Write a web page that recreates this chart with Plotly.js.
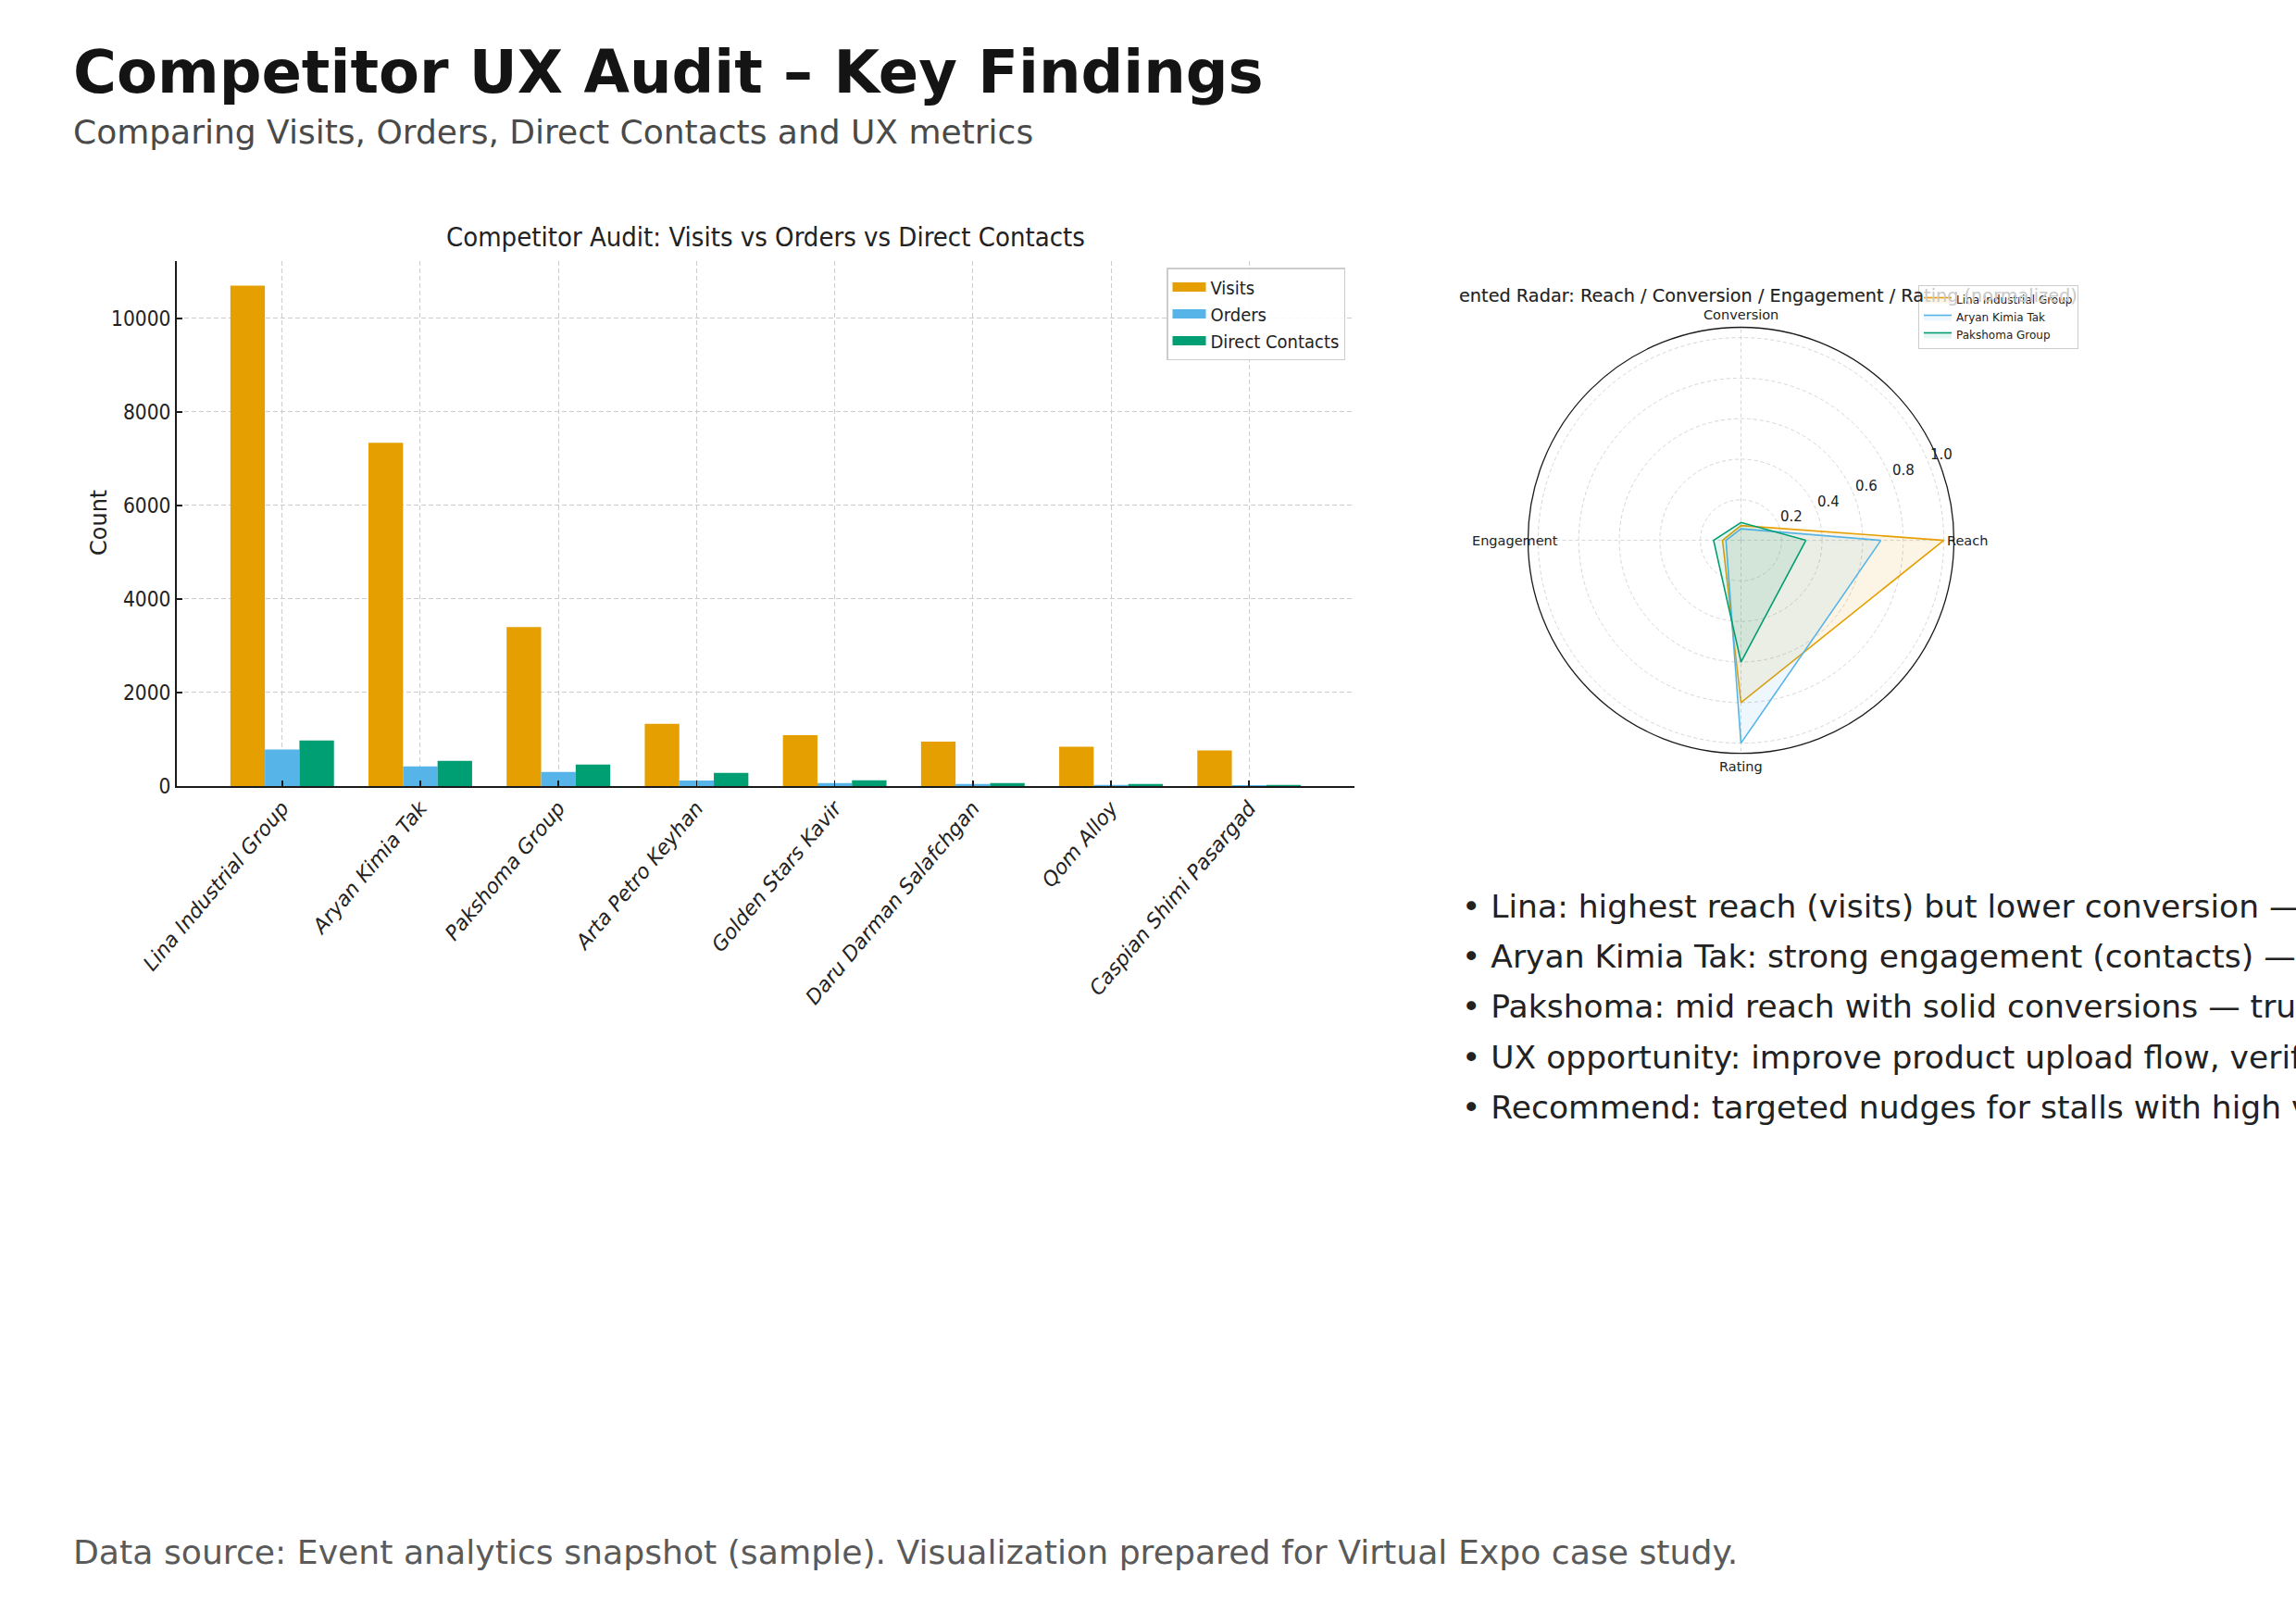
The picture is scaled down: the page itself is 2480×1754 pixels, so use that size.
<!DOCTYPE html>
<html>
<head>
<meta charset="utf-8">
<script src="https://cdn.plot.ly/plotly-3.0.1.min.js"></script>
<style>
  html, body { margin: 0; padding: 0; background: #ffffff; }
  #chart { width: 2480px; height: 1754px; }
</style>
</head>
<body>
<div id="chart"></div>
<script>
// ---------------- DATA ----------------
const companies = [
  'Lina Industrial Group', 'Aryan Kimia Tak', 'Pakshoma Group', 'Arta Petro Keyhan',
  'Golden Stars Kavir', 'Daru Darman Salafchgan', 'Qom Alloy', 'Caspian Shimi Pasargad'
];
const visits   = [10700, 7340, 3400, 1330, 1090, 950, 840, 760];
const orders   = [780, 420, 300, 120, 65, 45, 25, 20];
const contacts = [975, 540, 460, 280, 125, 65, 45, 25];
const seriesNames = ['Visits', 'Orders', 'Direct Contacts'];
const yTicks = [0, 2000, 4000, 6000, 8000, 10000];

const radarAxes = ['Reach', 'Conversion', 'Engagement', 'Rating'];
const radarNames = ['Lina Industrial Group', 'Aryan Kimia Tak', 'Pakshoma Group'];
const radarLina     = [1.00, 0.073, 0.091, 0.80];
const radarAryan    = [0.69, 0.057, 0.074, 1.00];
const radarPakshoma = [0.32, 0.088, 0.135, 0.60];
const radialTicks = [0.2, 0.4, 0.6, 0.8, 1.0];
const radialTickText = ['0.2', '0.4', '0.6', '0.8', '1.0'];

const mainTitle = 'Competitor UX Audit \u2013 Key Findings';
const subTitle = 'Comparing Visits, Orders, Direct Contacts and UX metrics';
const barTitle = 'Competitor Audit: Visits vs Orders vs Direct Contacts';
const radarTitle = 'ented Radar: Reach / Conversion / Engagement / Rating (normalized)';
const radarTitleVisible = 'ented Radar: Reach / Conversion / Engagement / Ra';
const bullets = [
  '\u2022 Lina: highest reach (visits) but lower conversion \u2014 optimize calls to action',
  '\u2022 Aryan Kimia Tak: strong engagement (contacts) \u2014 convert contacts to orders',
  '\u2022 Pakshoma: mid reach with solid conversions \u2014 trust signals work',
  '\u2022 UX opportunity: improve product upload flow, verification badges',
  '\u2022 Recommend: targeted nudges for stalls with high visits but low orders'
];
const footer = 'Data source: Event analytics snapshot (sample). Visualization prepared for Virtual Expo case study.';

// ---------------- STYLE ----------------
const W = 2480, H = 1754;
const px = v => v / W;
const py = v => 1 - v / H;
const colors = ['#E69F00', '#56B4E9', '#009E73'];
const fills = ['rgba(230,159,0,0.10)', 'rgba(86,180,233,0.10)', 'rgba(0,158,115,0.10)'];
const NARROW = '"Liberation Sans Narrow", "DejaVu Sans Condensed", "Roboto Condensed", "DejaVu Sans", sans-serif';
const DEJAVU = '"DejaVu Sans", "Noto Sans", sans-serif';

const barSeries = [visits, orders, contacts];
const traces = barSeries.map((vals, i) => ({
  type: 'bar',
  x: companies,
  y: vals,
  name: seriesNames[i],
  marker: { color: colors[i], line: { width: 0 } },
  xaxis: 'x', yaxis: 'y',
  showlegend: false,
  hoverinfo: 'skip'
}));
// legend-only entries drawn as wide rectangular swatches
seriesNames.forEach((nm, i) => {
  traces.push({
    type: 'scatter', mode: 'lines',
    x: [null], y: [null],
    name: nm,
    line: { color: colors[i], width: 14 },
    xaxis: 'x', yaxis: 'y',
    legend: 'legend',
    hoverinfo: 'skip'
  });
});

const radarSets = [radarLina, radarAryan, radarPakshoma];
radarSets.forEach((vals, i) => {
  traces.push({
    type: 'scatterpolar',
    theta: radarAxes.concat([radarAxes[0]]),
    r: vals.concat([vals[0]]),
    name: radarNames[i],
    mode: 'lines',
    line: { color: colors[i], width: 1.6 },
    fill: 'toself',
    fillcolor: fills[i],
    subplot: 'polar',
    legend: 'legend2',
    hoverinfo: 'skip'
  });
});

// radar geometry (pixels)
const RC = { x: 1880.5, y: 583.6 };
const R_OUT = 230;        // pixel radius of the outer circle
const R_MAX = 1.05;       // radial range max
const labelR = 244;
const angLabelPos = [
  { x: RC.x + labelR, y: RC.y },
  { x: RC.x, y: RC.y - labelR },
  { x: RC.x - labelR, y: RC.y },
  { x: RC.x, y: RC.y + labelR }
];
const rLabelAngle = 22.5 * Math.PI / 180;

const annotations = [
  { text: '<b>' + mainTitle + '</b>', x: px(77), y: py(78), xanchor: 'left', yanchor: 'middle',
    font: { family: DEJAVU, size: 64, color: '#141414' } },
  { text: subTitle, x: px(77), y: py(142), xanchor: 'left', yanchor: 'middle',
    font: { family: DEJAVU, size: 36, color: '#4a4a4a' } },
  { text: barTitle, x: px(827), y: py(256), xanchor: 'center', yanchor: 'middle',
    font: { family: NARROW, size: 29, color: '#222222' } },
  { text: 'Count', x: px(107), y: py(565), xanchor: 'center', yanchor: 'middle', textangle: -90,
    font: { family: DEJAVU, size: 24, color: '#222222' } },
  { text: radarTitle, x: px(1574), y: py(319), xanchor: 'left', yanchor: 'middle',
    font: { family: DEJAVU, size: 19.3, color: '#c9c9c9' } },
  { text: radarTitleVisible, x: px(1574), y: py(319), xanchor: 'left', yanchor: 'middle',
    font: { family: DEJAVU, size: 19.3, color: '#222222' } },
  { text: footer, x: px(77), y: py(1676), xanchor: 'left', yanchor: 'middle',
    font: { family: DEJAVU, size: 36.2, color: '#5a5a5a' } }
];
radarAxes.forEach((lab, i) => {
  annotations.push({ text: lab, x: px(angLabelPos[i].x), y: py(angLabelPos[i].y),
    xanchor: 'center', yanchor: 'middle',
    font: { family: DEJAVU, size: 14.5, color: '#222222' } });
});
radialTicks.forEach((v, i) => {
  const rr = v / R_MAX * R_OUT;
  const lx = RC.x + rr * Math.cos(rLabelAngle) + 14;
  const ly = RC.y - rr * Math.sin(rLabelAngle) - 8.5;
  annotations.push({ text: radialTickText[i], x: px(lx), y: py(ly),
    xanchor: 'center', yanchor: 'middle',
    font: { family: DEJAVU, size: 15, color: '#222222' } });
});
const bulletY = [979, 1033, 1087, 1142, 1196];
bullets.forEach((b, i) => {
  annotations.push({ text: b, x: px(1577), y: py(bulletY[i]), xanchor: 'left', yanchor: 'middle',
    font: { family: DEJAVU, size: 34.5, color: '#222222' } });
});
annotations.forEach(a => { a.xref = 'paper'; a.yref = 'paper'; a.showarrow = false; });

const layout = {
  width: W, height: H,
  margin: { l: 0, r: 0, t: 0, b: 0, pad: 0 },
  paper_bgcolor: '#ffffff',
  plot_bgcolor: '#ffffff',
  barmode: 'group',
  bargap: 0.25,
  bargroupgap: 0,
  showlegend: true,
  xaxis: {
    domain: [px(191), px(1463)],
    type: 'category',
    range: [-0.7625, 7.7625],
    showgrid: true, gridcolor: '#cccccc', griddash: '5px,3px', gridwidth: 1,
    showline: true, linecolor: '#1a1a1a', linewidth: 2,
    ticks: 'inside', ticklen: 6, tickwidth: 1.5, tickcolor: '#1a1a1a',
    tickangle: -50,
    tickfont: { family: DEJAVU, size: 22, color: '#222222', style: 'italic' },
    zeroline: false, fixedrange: true
  },
  yaxis: {
    domain: [py(849), py(281.5)],
    range: [0, 11235],
    tickvals: yTicks,
    ticktext: yTicks.map(String),
    showgrid: true, gridcolor: '#cccccc', griddash: '5px,3px', gridwidth: 1,
    showline: true, linecolor: '#1a1a1a', linewidth: 2,
    ticks: 'inside', ticklen: 6, tickwidth: 1.5, tickcolor: '#1a1a1a',
    tickfont: { family: NARROW, size: 22.5, color: '#222222' },
    zeroline: false, fixedrange: true
  },
  legend: {
    x: px(1453), y: py(289), xanchor: 'right', yanchor: 'top',
    bgcolor: 'rgba(255,255,255,0.85)', bordercolor: '#cccccc', borderwidth: 1.5,
    font: { family: NARROW, size: 20, color: '#222222' },
    itemwidth: 36, tracegroupgap: 0, traceorder: 'normal'
  },
  legend2: {
    x: px(2245), y: py(308), xanchor: 'right', yanchor: 'top',
    bgcolor: 'rgba(255,255,255,0.8)', bordercolor: '#cccccc', borderwidth: 1,
    font: { family: DEJAVU, size: 12, color: '#222222' },
    itemwidth: 30, tracegroupgap: 0
  },
  polar: {
    domain: { x: [px(RC.x - R_OUT), px(RC.x + R_OUT)], y: [py(RC.y + R_OUT), py(RC.y - R_OUT)] },
    bgcolor: '#ffffff',
    radialaxis: {
      range: [0, R_MAX],
      angle: 22.5,
      tickvals: radialTicks,
      showticklabels: false,
      showline: false,
      ticks: '',
      gridcolor: '#d6d6d6', griddash: '4px,3px', gridwidth: 1
    },
    angularaxis: {
      type: 'category',
      categoryarray: radarAxes,
      rotation: 0,
      direction: 'counterclockwise',
      showline: true, linecolor: '#1a1a1a', linewidth: 1.3,
      gridcolor: '#d6d6d6', griddash: '4px,3px', gridwidth: 1,
      ticks: '',
      showticklabels: false
    }
  },
  annotations: annotations
};

Plotly.newPlot('chart', traces, layout, { staticPlot: true, displayModeBar: false });
</script>
</body>
</html>
